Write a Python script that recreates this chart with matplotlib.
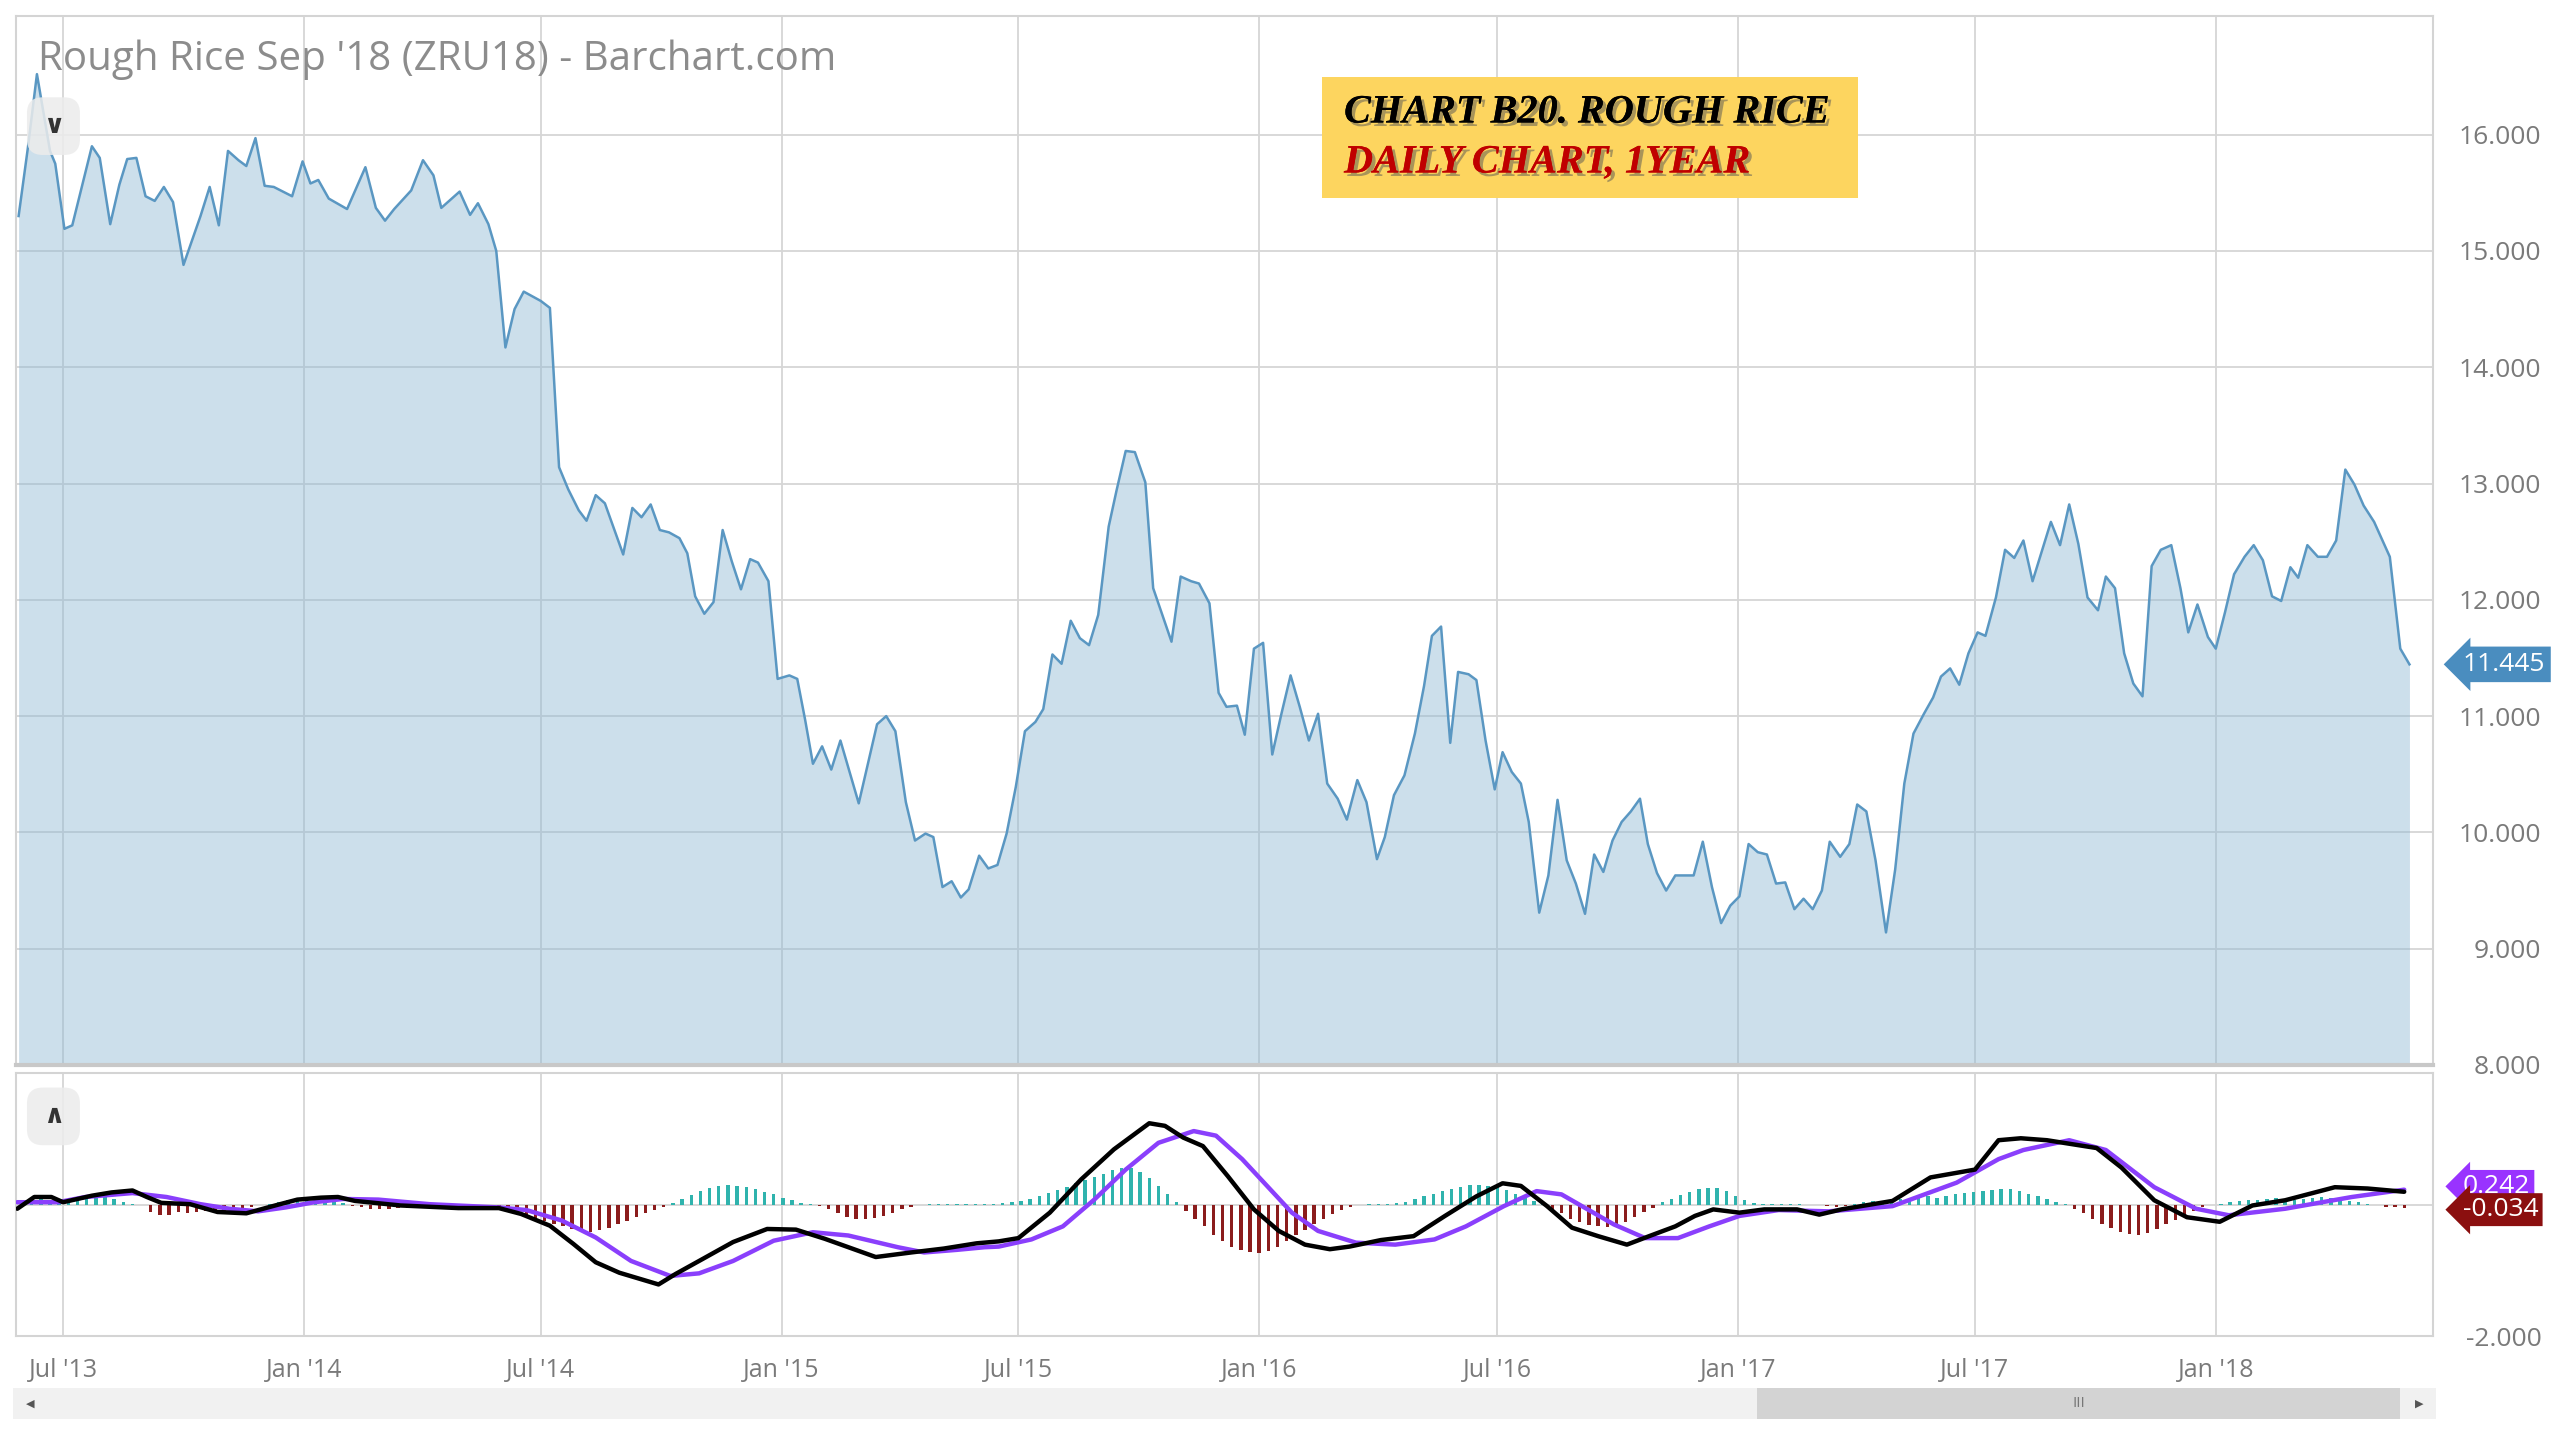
import matplotlib
matplotlib.use('Agg')
import matplotlib.pyplot as plt
import matplotlib.patheffects as pe
from matplotlib.patches import Rectangle
import pandas as pd

plt.rcParams['font.family'] = ['Open Sans', 'DejaVu Sans']

# ---------------- data ----------------
price_dates = [
    '2013-05-28', '2013-06-04', '2013-06-11', '2013-06-21', '2013-06-25', '2013-07-02', '2013-07-08',
    '2013-07-23', '2013-07-29', '2013-08-06', '2013-08-13', '2013-08-19', '2013-08-26', '2013-09-02',
    '2013-09-09', '2013-09-16', '2013-09-23', '2013-10-01', '2013-10-14', '2013-10-21', '2013-10-28',
    '2013-11-04', '2013-11-12', '2013-11-18', '2013-11-25', '2013-12-02', '2013-12-09', '2013-12-23',
    '2013-12-31', '2014-01-06', '2014-01-12', '2014-01-20', '2014-02-03', '2014-02-17', '2014-02-25',
    '2014-03-04', '2014-03-11', '2014-03-24', '2014-04-02', '2014-04-10', '2014-04-16', '2014-04-30',
    '2014-05-08', '2014-05-14', '2014-05-22', '2014-05-28', '2014-06-04', '2014-06-11', '2014-06-18',
    '2014-07-01', '2014-07-08', '2014-07-15', '2014-07-22', '2014-07-30', '2014-08-05', '2014-08-12',
    '2014-08-19', '2014-09-02', '2014-09-09', '2014-09-16', '2014-09-23', '2014-09-30', '2014-10-07',
    '2014-10-15', '2014-10-21', '2014-10-27', '2014-11-03', '2014-11-10', '2014-11-17', '2014-11-24',
    '2014-12-01', '2014-12-08', '2014-12-14', '2014-12-22', '2014-12-29', '2015-01-07', '2015-01-13',
    '2015-01-19', '2015-01-25', '2015-02-01', '2015-02-08', '2015-02-15', '2015-03-01', '2015-03-15',
    '2015-03-22', '2015-03-29', '2015-04-06', '2015-04-13', '2015-04-21', '2015-04-27', '2015-05-04',
    '2015-05-11', '2015-05-18', '2015-05-24', '2015-06-01', '2015-06-08', '2015-06-15', '2015-06-22',
    '2015-06-29', '2015-07-06', '2015-07-14', '2015-07-20', '2015-07-27', '2015-08-03', '2015-08-10',
    '2015-08-17', '2015-08-24', '2015-08-31', '2015-09-08', '2015-09-14', '2015-09-21', '2015-09-28',
    '2015-10-06', '2015-10-12', '2015-10-26', '2015-11-02', '2015-11-10', '2015-11-16', '2015-11-24',
    '2015-12-01', '2015-12-07', '2015-12-15', '2015-12-21', '2015-12-28', '2016-01-04', '2016-01-11',
    '2016-01-18', '2016-01-25', '2016-02-01', '2016-02-08', '2016-02-15', '2016-02-22', '2016-03-01',
    '2016-03-08', '2016-03-16', '2016-03-23', '2016-03-31', '2016-04-06', '2016-04-13', '2016-04-21',
    '2016-04-29', '2016-05-06', '2016-05-12', '2016-05-19', '2016-05-26', '2016-06-01', '2016-06-09',
    '2016-06-15', '2016-06-22', '2016-06-29', '2016-07-05', '2016-07-12', '2016-07-19', '2016-07-25',
    '2016-08-02', '2016-08-09', '2016-08-16', '2016-08-23', '2016-08-30', '2016-09-06', '2016-09-13',
    '2016-09-20', '2016-09-27', '2016-10-04', '2016-10-11', '2016-10-18', '2016-10-24', '2016-10-31',
    '2016-11-07', '2016-11-14', '2016-11-21', '2016-11-28', '2016-12-05', '2016-12-12', '2016-12-19',
    '2016-12-26', '2017-01-02', '2017-01-09', '2017-01-16', '2017-01-23', '2017-01-30', '2017-02-06',
    '2017-02-13', '2017-02-20', '2017-02-27', '2017-03-06', '2017-03-12', '2017-03-20', '2017-03-27',
    '2017-04-02', '2017-04-09', '2017-04-16', '2017-04-24', '2017-05-01', '2017-05-08', '2017-05-15',
    '2017-05-23', '2017-05-30', '2017-06-05', '2017-06-12', '2017-06-19', '2017-06-26', '2017-07-03',
    '2017-07-09', '2017-07-17', '2017-07-24', '2017-07-31', '2017-08-07', '2017-08-14', '2017-08-28',
    '2017-09-04', '2017-09-11', '2017-09-18', '2017-09-25', '2017-10-03', '2017-10-09', '2017-10-16',
    '2017-10-23', '2017-10-30', '2017-11-06', '2017-11-13', '2017-11-20', '2017-11-28', '2017-12-05',
    '2017-12-11', '2017-12-18', '2017-12-26', '2018-01-01', '2018-01-08', '2018-01-15', '2018-01-23',
    '2018-01-30', '2018-02-06', '2018-02-13', '2018-02-20', '2018-02-27', '2018-03-05', '2018-03-12',
    '2018-03-20', '2018-03-27', '2018-04-03', '2018-04-10', '2018-04-17', '2018-04-24', '2018-05-02',
    '2018-05-08', '2018-05-14', '2018-05-22', '2018-05-29',
]
price_values = [
    15.30, 15.88, 16.52, 15.86, 15.75, 15.19, 15.22,
    15.90, 15.80, 15.23, 15.57, 15.79, 15.80, 15.47,
    15.43, 15.55, 15.42, 14.88, 15.30, 15.55, 15.22,
    15.86, 15.78, 15.73, 15.97, 15.56, 15.55, 15.47,
    15.77, 15.58, 15.61, 15.45, 15.36, 15.72, 15.37,
    15.26, 15.36, 15.52, 15.78, 15.65, 15.37, 15.51,
    15.31, 15.41, 15.23, 15.00, 14.17, 14.50, 14.65,
    14.57, 14.51, 13.14, 12.95, 12.77, 12.68, 12.90,
    12.83, 12.39, 12.79, 12.71, 12.82, 12.60, 12.58,
    12.53, 12.40, 12.03, 11.88, 11.98, 12.60, 12.33,
    12.09, 12.35, 12.32, 12.16, 11.32, 11.35, 11.32,
    10.97, 10.59, 10.74, 10.54, 10.79, 10.25, 10.93,
    11.00, 10.87, 10.26, 9.93, 9.99, 9.96, 9.53,
    9.58, 9.44, 9.51, 9.80, 9.69, 9.72, 9.99,
    10.39, 10.87, 10.95, 11.06, 11.53, 11.45, 11.82,
    11.67, 11.61, 11.87, 12.63, 12.94, 13.28, 13.27,
    13.01, 12.10, 11.64, 12.20, 12.16, 12.14, 11.97,
    11.20, 11.08, 11.09, 10.84, 11.58, 11.63, 10.67,
    11.02, 11.35, 11.08, 10.79, 11.02, 10.42, 10.29,
    10.11, 10.45, 10.26, 9.77, 9.96, 10.32, 10.49,
    10.85, 11.26, 11.69, 11.77, 10.77, 11.38, 11.36,
    11.31, 10.79, 10.37, 10.69, 10.52, 10.42, 10.09,
    9.31, 9.63, 10.28, 9.76, 9.56, 9.30, 9.81,
    9.66, 9.93, 10.09, 10.18, 10.29, 9.90, 9.65,
    9.50, 9.63, 9.63, 9.63, 9.92, 9.53, 9.22,
    9.37, 9.45, 9.90, 9.83, 9.81, 9.56, 9.57,
    9.34, 9.43, 9.34, 9.50, 9.92, 9.79, 9.90,
    10.24, 10.18, 9.76, 9.14, 9.68, 10.42, 10.85,
    11.02, 11.16, 11.34, 11.41, 11.27, 11.54, 11.72,
    11.69, 12.02, 12.43, 12.36, 12.51, 12.16, 12.67,
    12.47, 12.82, 12.48, 12.02, 11.91, 12.20, 12.10,
    11.54, 11.28, 11.17, 12.29, 12.43, 12.47, 12.10,
    11.72, 11.96, 11.68, 11.58, 11.89, 12.22, 12.37,
    12.47, 12.34, 12.03, 11.99, 12.28, 12.19, 12.47,
    12.37, 12.37, 12.51, 13.12, 12.99, 12.81, 12.67,
    12.52, 12.37, 11.58, 11.445,
]

macd_dates = [
    '2013-05-27', '2013-06-09', '2013-06-22', '2013-07-01', '2013-07-23', '2013-08-07', '2013-08-23',
    '2013-09-03', '2013-09-14', '2013-10-06', '2013-10-27', '2013-11-18', '2013-12-10', '2013-12-27',
    '2014-01-14', '2014-01-27', '2014-02-09', '2014-03-16', '2014-04-29', '2014-05-30', '2014-06-16',
    '2014-07-08', '2014-07-26', '2014-08-12', '2014-08-30', '2014-09-29', '2014-10-12', '2014-10-30',
    '2014-11-25', '2014-12-21', '2015-01-12', '2015-02-03', '2015-03-14', '2015-04-10', '2015-05-05',
    '2015-05-30', '2015-06-16', '2015-07-01', '2015-07-25', '2015-08-18', '2015-09-12', '2015-10-09',
    '2015-10-21', '2015-11-04', '2015-11-19', '2015-12-08', '2015-12-28', '2016-01-16', '2016-02-05',
    '2016-02-24', '2016-03-10', '2016-04-03', '2016-04-28', '2016-05-22', '2016-06-15', '2016-07-05',
    '2016-07-19', '2016-08-08', '2016-08-27', '2016-09-16', '2016-10-08', '2016-10-25', '2016-11-14',
    '2016-11-29', '2016-12-13', '2017-01-02', '2017-01-21', '2017-02-15', '2017-03-04', '2017-03-21',
    '2017-04-29', '2017-05-28', '2017-07-01', '2017-07-19', '2017-08-05', '2017-08-25', '2017-10-02',
    '2017-10-21', '2017-11-15', '2017-12-10', '2018-01-04', '2018-01-29', '2018-02-23', '2018-04-02',
    '2018-04-27', '2018-05-25',
]
macd_values = [
    -0.05, 0.13, 0.13, 0.05, 0.15, 0.20, 0.23,
    0.13, 0.04, 0.02, -0.10, -0.12, 0.00, 0.09,
    0.12, 0.13, 0.07, 0.00, -0.04, -0.04, -0.13,
    -0.31, -0.59, -0.87, -1.03, -1.21, -1.05, -0.85,
    -0.56, -0.36, -0.37, -0.51, -0.79, -0.72, -0.66,
    -0.58, -0.55, -0.50, -0.11, 0.40, 0.86, 1.26,
    1.22, 1.04, 0.91, 0.45, -0.06, -0.39, -0.60,
    -0.67, -0.63, -0.53, -0.47, -0.16, 0.14, 0.34,
    0.30, -0.01, -0.34, -0.47, -0.60, -0.47, -0.32,
    -0.16, -0.06, -0.11, -0.06, -0.06, -0.14, -0.06,
    0.07, 0.43, 0.55, 1.00, 1.03, 1.00, 0.88,
    0.58, 0.08, -0.18, -0.25, 0.00, 0.08, 0.28,
    0.26, 0.21,
]

signal_dates = [
    '2013-05-27', '2013-06-27', '2013-07-18', '2013-08-23', '2013-09-18', '2013-10-14', '2013-11-05',
    '2013-11-27', '2013-12-18', '2014-01-09', '2014-01-31', '2014-02-27', '2014-04-07', '2014-05-30',
    '2014-06-20', '2014-07-17', '2014-08-12', '2014-09-08', '2014-10-08', '2014-10-30', '2014-11-25',
    '2014-12-26', '2015-01-25', '2015-02-21', '2015-03-31', '2015-04-20', '2015-05-15', '2015-06-05',
    '2015-06-16', '2015-07-11', '2015-08-04', '2015-08-28', '2015-09-21', '2015-10-16', '2015-11-12',
    '2015-11-29', '2015-12-19', '2016-01-07', '2016-01-26', '2016-02-15', '2016-03-15', '2016-04-14',
    '2016-05-14', '2016-06-07', '2016-07-06', '2016-07-31', '2016-08-19', '2016-09-08', '2016-09-28',
    '2016-10-22', '2016-11-16', '2016-12-10', '2017-01-02', '2017-02-01', '2017-03-11', '2017-04-29',
    '2017-06-17', '2017-07-19', '2017-08-07', '2017-09-11', '2017-10-09', '2017-11-15', '2017-12-17',
    '2018-01-11', '2018-02-23', '2018-04-15', '2018-05-25',
]
signal_values = [
    0.05, 0.05, 0.13, 0.19, 0.13, 0.02, -0.05,
    -0.09, -0.03, 0.05, 0.10, 0.09, 0.02, -0.03,
    -0.07, -0.23, -0.49, -0.85, -1.08, -1.04, -0.85,
    -0.54, -0.41, -0.46, -0.64, -0.72, -0.68, -0.64,
    -0.63, -0.52, -0.32, 0.09, 0.55, 0.96, 1.14,
    1.07, 0.71, 0.30, -0.11, -0.39, -0.57, -0.60,
    -0.52, -0.32, -0.01, 0.22, 0.17, -0.06, -0.29,
    -0.50, -0.50, -0.32, -0.16, -0.07, -0.09, -0.01,
    0.35, 0.71, 0.85, 1.00, 0.85, 0.28, -0.05,
    -0.15, -0.05, 0.13, 0.242,
]

hist_start = '2013-05-31'
hist_values = [
    0.06, 0.08, 0.1, 0.09, 0.07, 0.05, 0.08, 0.1, 0.12, 0.13, 0.1, 0.06, 0.03, 0.0,
    -0.1, -0.15, -0.14, -0.1, -0.12, -0.1, -0.09, -0.1, -0.08, -0.06, -0.04, -0.02, 0.0, 0.02,
    0.05, 0.09, 0.12, 0.13, 0.12, 0.1, 0.07, 0.04,
    -0.01, -0.03, -0.05, -0.06, -0.05, -0.04, -0.04, -0.03, -0.03, -0.02, -0.02, -0.02, -0.02,
    -0.01, -0.01, -0.01, -0.02,
    -0.05, -0.09, -0.14, -0.19, -0.24, -0.28, -0.32, -0.36, -0.39, -0.4, -0.38, -0.34, -0.29,
    -0.24, -0.18, -0.12, -0.07, -0.03,
    0.04, 0.1, 0.16, 0.22, 0.27, 0.3, 0.31, 0.3, 0.28, 0.25, 0.21, 0.17, 0.12, 0.08, 0.04, 0.02,
    -0.01, -0.06, -0.12, -0.17, -0.2, -0.2, -0.19, -0.16, -0.11, -0.06, -0.02,
    0.01, 0.02, 0.03, 0.02, 0.02, 0.03, 0.02, 0.02, 0.03, 0.04,
    0.05, 0.07, 0.1, 0.14, 0.19, 0.24, 0.29, 0.34, 0.39, 0.44, 0.49, 0.54, 0.57, 0.58, 0.52,
    0.42, 0.3, 0.17, 0.06,
    -0.08, -0.2, -0.32, -0.45, -0.55, -0.63, -0.68, -0.72, -0.73, -0.7, -0.63, -0.55, -0.46,
    -0.37, -0.28, -0.2, -0.13, -0.07, -0.02,
    0.01, 0.02, 0.03, 0.02, 0.04, 0.06, 0.1, 0.14, 0.18, 0.22, 0.26, 0.29, 0.31, 0.32, 0.3,
    0.28, 0.24, 0.18, 0.12, 0.07, 0.03,
    -0.05, -0.12, -0.2, -0.26, -0.3, -0.32, -0.33, -0.3, -0.25, -0.18, -0.1, -0.04,
    0.05, 0.1, 0.16, 0.21, 0.25, 0.27, 0.27, 0.22, 0.15, 0.08, 0.04,
    0.02, 0.02, 0.03, 0.02, 0.02, 0.01, 0.01, -0.01, -0.02, -0.01,
    0.03, 0.05, 0.07, 0.06, 0.08, 0.1, 0.09, 0.12, 0.14, 0.12, 0.15, 0.17, 0.19, 0.2,
    0.22, 0.24, 0.25, 0.25, 0.22, 0.18, 0.14, 0.1, 0.06, 0.02,
    -0.05, -0.12, -0.2, -0.28, -0.35, -0.4, -0.44, -0.45, -0.42, -0.36, -0.29, -0.22, -0.15,
    -0.08, -0.03,
    0.01, 0.03, 0.05,
    0.07, 0.09, 0.08, 0.1, 0.12, 0.1, 0.08, 0.1, 0.12, 0.13, 0.11, 0.09, 0.07, 0.05, 0.03,
    0.0, -0.02, -0.03, -0.034,
]

x_tick_dates = ['2013-07-01', '2014-01-01', '2014-07-01', '2015-01-01', '2015-07-01',
                '2016-01-01', '2016-07-01', '2017-01-01', '2017-07-01', '2018-01-01']
x_tick_labels = ["Jul '13", "Jan '14", "Jul '14", "Jan '15", "Jul '15",
                 "Jan '16", "Jul '16", "Jan '17", "Jul '17", "Jan '18"]
price_ticks = [8, 9, 10, 11, 12, 13, 14, 15, 16]
macd_ticks = [-2]
last_price = 11.445
last_signal = 0.242
last_hist = -0.034

title_text = "Rough Rice Sep '18 (ZRU18) - Barchart.com"
note_line1 = "CHART B20. ROUGH RICE"
note_line2 = "DAILY CHART, 1YEAR"

# ---------------- figure ----------------
W, H = 2560, 1440
fig = plt.figure(figsize=(25.6, 14.4), dpi=100)
fig.patch.set_facecolor('white')

ax = fig.add_axes([16 / W, 1 - 1065 / H, 2417 / W, 1049 / H])
ax2 = fig.add_axes([16 / W, 1 - 1336 / H, 2417 / W, 263 / H], sharex=ax)

grid_c = '#d6d6d6'
tick_c = '#7a7a7a'
pdates = pd.to_datetime(price_dates)

ax.fill_between(pdates, price_values, 8, color='#8fb8d4', alpha=0.45, lw=0, zorder=2)
ax.plot(pdates, price_values, color='#5a97c2', lw=1.8, zorder=3)

xt = pd.to_datetime(x_tick_dates)
for a in (ax, ax2):
    a.set_axisbelow(True)
    a.set_xticks(xt)
    a.grid(True, axis='x', color=grid_c, lw=1.3)
    a.set_facecolor('white')
    for s in a.spines.values():
        s.set_color('#d4d4d4')
        s.set_linewidth(1.5)
    a.yaxis.tick_right()
    a.tick_params(axis='both', length=0, colors=tick_c, labelsize=19)

ax.set_xlim(pd.Timestamp('2013-05-26'), pd.Timestamp('2018-06-16'))
ax.set_ylim(8, 17.02)
ax.set_yticks(price_ticks)
ax.set_yticklabels([f'{v:.3f}' for v in price_ticks])
ax.grid(True, axis='y', color=grid_c, lw=1.3)
ax.spines['bottom'].set_linewidth(3)
ax.spines['bottom'].set_color('#c8c8c8')
plt.setp(ax.get_xticklabels(), visible=False)
ax.tick_params(axis='y', pad=78)
for lab in ax.get_yticklabels():
    lab.set_horizontalalignment('right')

ax.text(0.009, 0.958, title_text, transform=ax.transAxes, ha='left', va='center',
        fontsize=29, color='#8c8c8c', zorder=6)
ax.text(0.0155, 0.895, '\u2228', transform=ax.transAxes, ha='center', va='center',
        fontsize=19, fontweight='bold', color='#333333', family='DejaVu Sans', zorder=6,
        bbox=dict(boxstyle='round,pad=0.6', fc='#ececec', ec='none', alpha=0.85))

# annotation box
fig.patches.append(Rectangle((1322 / W, 1 - 198 / H), 536 / W, 121 / H, transform=fig.transFigure,
                             fc='#fdd55f', ec='none', zorder=5))
shadow = [pe.withSimplePatchShadow(offset=(2.5, -2.5), shadow_rgbFace='#555555', alpha=0.5), pe.Normal()]
fig.text(1344 / W, 1 - 113 / H, note_line1, ha='left', va='center', fontsize=29, fontweight='bold',
         fontstyle='italic', family='Liberation Serif', color='black', path_effects=shadow, zorder=6)
fig.text(1344 / W, 1 - 163 / H, note_line2, ha='left', va='center', fontsize=29, fontweight='bold',
         fontstyle='italic', family='Liberation Serif', color='#c00000', path_effects=shadow, zorder=6)

# last price tag
ax.annotate(f'{last_price:.3f}', xy=(1, last_price), xycoords=ax.get_yaxis_transform(),
            xytext=(30, 0), textcoords='offset pixels', ha='left', va='center', fontsize=19,
            color='white', annotation_clip=False,
            bbox=dict(boxstyle='larrow,pad=0.2', fc='#4a8dbf', ec='none'))

# ---------------- MACD panel ----------------
hdates = pd.date_range(hist_start, periods=len(hist_values), freq='7D')
hcolors = ['#2fb3ad' if v >= 0 else '#8b1c1c' for v in hist_values]
ax2.bar(hdates, hist_values, width=2.6, color=hcolors, zorder=2)
ax2.plot(pd.to_datetime(signal_dates), signal_values, color='#8a3ffc', lw=3.2, zorder=3,
         solid_capstyle='round', solid_joinstyle='round')
ax2.plot(pd.to_datetime(macd_dates), macd_values, color='black', lw=3.2, zorder=4,
         solid_capstyle='round', solid_joinstyle='round')
ax2.axhline(0, color=grid_c, lw=1.3, zorder=1)
ax2.set_ylim(-2, 2.03)
ax2.set_yticks(macd_ticks)
ax2.set_yticklabels([f'{v:.3f}' for v in macd_ticks])
ax2.tick_params(axis='y', pad=78)
for lab in ax2.get_yticklabels():
    lab.set_horizontalalignment('right')
ax2.set_xticklabels(x_tick_labels)
ax2.tick_params(axis='x', pad=16, labelsize=18)
ax2.set_xlim(pd.Timestamp('2013-05-26'), pd.Timestamp('2018-06-16'))
ax2.text(0.0155, 0.835, '\u2227', transform=ax2.transAxes, ha='center', va='center',
         fontsize=19, fontweight='bold', color='#333333', family='DejaVu Sans', zorder=6,
         bbox=dict(boxstyle='round,pad=0.6', fc='#ececec', ec='none', alpha=0.85))

ax2.annotate(f'{last_signal:.3f}', xy=(1, last_signal + 0.05), xycoords=ax2.get_yaxis_transform(),
             xytext=(30, 0), textcoords='offset pixels', ha='left', va='center', fontsize=19,
             color='white', annotation_clip=False, zorder=7,
             bbox=dict(boxstyle='larrow,pad=0.15', fc='#9933ff', ec='none'))
ax2.annotate(f'{last_hist:.3f}', xy=(1, last_hist - 0.03), xycoords=ax2.get_yaxis_transform(),
             xytext=(30, 0), textcoords='offset pixels', ha='left', va='center', fontsize=19,
             color='white', annotation_clip=False, zorder=8,
             bbox=dict(boxstyle='larrow,pad=0.15', fc='#8b0f0f', ec='none'))

# ---------------- scrollbar ----------------
sc = fig.add_axes([8 / 1568, 1 - 869 / 882, 1484 / 1568, 19 / 882])
sc.set_xlim(0, 1)
sc.set_ylim(0, 1)
sc.axis('off')
sc.add_patch(Rectangle((0, 0), 1, 1, fc='#f1f1f1', ec='none'))
sc.add_patch(Rectangle((0.7197, 0), 0.2655, 1, fc='#d3d3d3', ec='none'))
sc.text(0.8525, 0.5, 'III', ha='center', va='center', fontsize=11, color='#777777')
sc.text(0.007, 0.5, '\u25C0', ha='center', va='center', fontsize=8, color='#555555', family='DejaVu Sans')
sc.text(0.993, 0.5, '\u25B6', ha='center', va='center', fontsize=8, color='#555555', family='DejaVu Sans')

fig.savefig('out.png', dpi=100, facecolor='white')
